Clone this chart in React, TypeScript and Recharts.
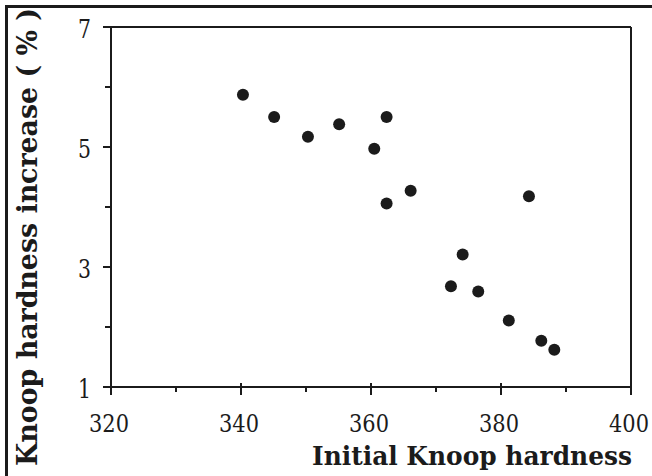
import React from "react";
import { ScatterChart, Scatter, XAxis, YAxis, ReferenceLine } from "recharts";

const initialHardness = [340.3, 345.1, 350.3, 355.1, 362.4, 360.5, 366.1, 362.4, 384.3, 374.1, 372.3, 376.5, 381.2, 386.2, 388.2];
const hardnessIncrease = [5.87, 5.5, 5.17, 5.38, 5.5, 4.97, 4.27, 4.06, 4.18, 3.21, 2.68, 2.59, 2.11, 1.77, 1.62];

const xTicks = [320, 330, 340, 350, 360, 370, 380, 390, 400];
const xLabeled = [320, 340, 360, 380, 400];
const yTicks = [1, 2, 3, 4, 5, 6, 7];
const yLabeled = [1, 3, 5, 7];

const data = initialHardness.map((x, i) => ({ x, y: hardnessIncrease[i] }));

const INK = "#1b1b1b";
const SERIF = "DejaVu Serif";

const XTick = (props: any) => {
  const { x, y, payload } = props;
  const major = xLabeled.includes(payload.value);
  return (
    <g>
      <line x1={x} x2={x} y1={y - (major ? 4 : 0)} y2={y + (major ? 8 : 5)} stroke={INK} strokeWidth={2} />
      {major && (
        <text x={x - 22} y={y + 45} fontFamily={SERIF} fontSize={24} fill={INK} textLength={40} lengthAdjust="spacingAndGlyphs">
          {payload.value}
        </text>
      )}
    </g>
  );
};

const YTick = (props: any) => {
  const { x, y, payload } = props;
  const major = yLabeled.includes(payload.value);
  return (
    <g>
      <line x1={x - (major ? 8 : 6)} x2={x} y1={y} y2={y} stroke={INK} strokeWidth={2} />
      {major && (
        <text x={x - 33} y={y + 11} fontFamily={SERIF} fontSize={26} fill={INK} textLength={13} lengthAdjust="spacingAndGlyphs">
          {payload.value}
        </text>
      )}
    </g>
  );
};

const XTitle = (props: any) => (
  <g>
    <path d="M6.5 476 V6.5 H652" fill="none" stroke={INK} strokeWidth={3} />
    <text
      x={312}
      y={465}
      fill={INK}
      fontFamily={SERIF}
      fontWeight="bold"
      fontSize={26}
      textLength={320}
      lengthAdjust="spacingAndGlyphs"
    >
      Initial Knoop hardness
    </text>
  </g>
);

const YTitle = (props: any) => (
  <text
    x={-466}
    y={37}
    transform="rotate(-90)"
    fill={INK}
    fontFamily={SERIF}
    fontWeight="bold"
    fontSize={27}
    textLength={458}
    lengthAdjust="spacingAndGlyphs"
  >
    Knoop hardness increase ( % )
  </text>
);

export default function App() {
  return (
    <ScatterChart width={652} height={476} margin={{ top: 27, right: 21, left: 0, bottom: 0 }} style={{ position: "absolute", left: 0, top: 0, background: "#fff" }}>
      <XAxis
        type="number"
        dataKey="x"
        domain={[320, 400]}
        ticks={xTicks}
        interval={0}
        height={89}
        tickSize={0}
        tickMargin={0}
        tickLine={false}
        axisLine={{ stroke: INK, strokeWidth: 2 }}
        tick={<XTick />}
        label={{ content: <XTitle /> } as any}
      />
      <YAxis
        type="number"
        dataKey="y"
        domain={[1, 7]}
        ticks={yTicks}
        interval={0}
        width={111}
        tickSize={0}
        tickMargin={0}
        tickLine={false}
        axisLine={{ stroke: INK, strokeWidth: 2 }}
        tick={<YTick />}
        label={{ content: <YTitle /> } as any}
      />
      <ReferenceLine y={7} stroke={INK} strokeWidth={2} />
      <ReferenceLine x={400} stroke={INK} strokeWidth={2} />
      <Scatter data={data} fill={INK} isAnimationActive={false} shape={(p: any) => <circle cx={p.cx} cy={p.cy} r={6} fill={INK} />} />
    </ScatterChart>
  );
}
